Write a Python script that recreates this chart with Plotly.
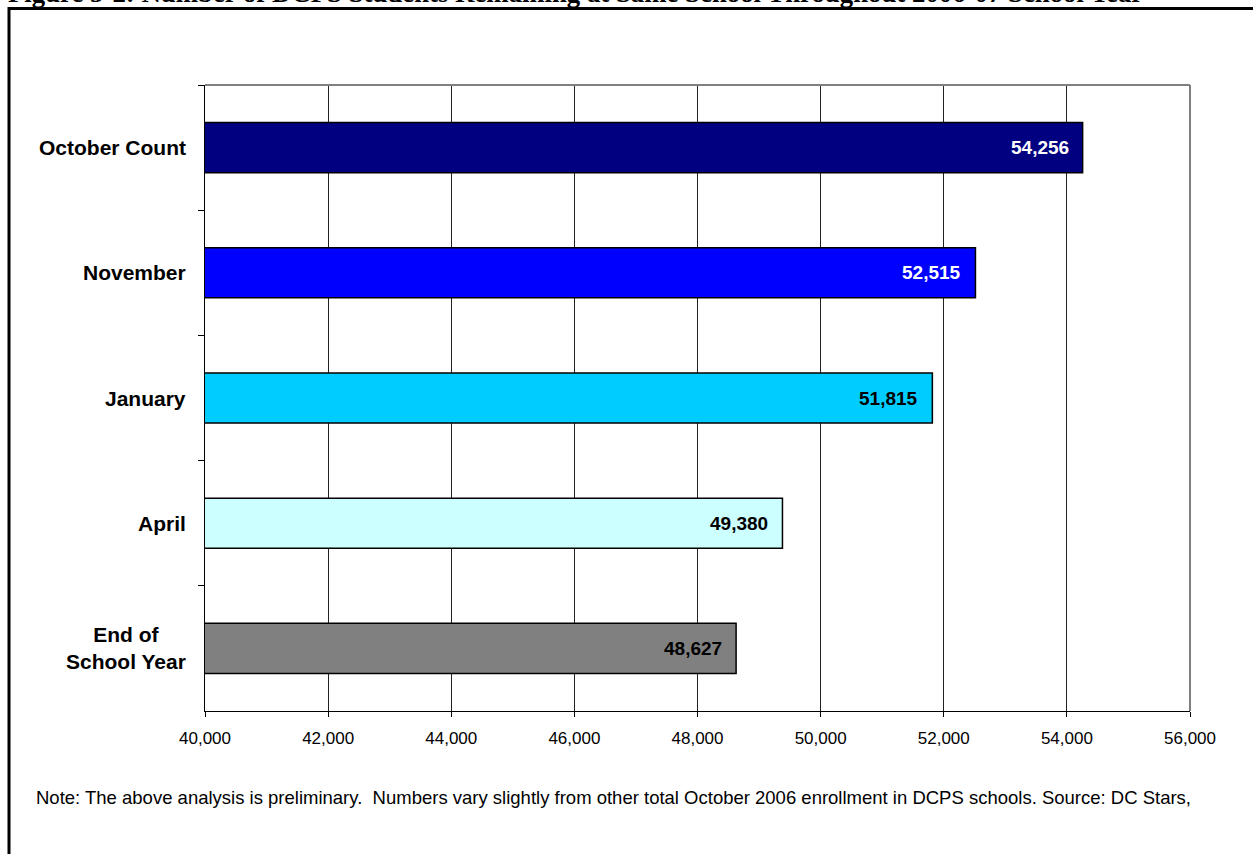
import plotly.graph_objects as go

categories = ["October Count", "November", "January", "April", "End of School Year"]
cat_labels = ["October Count", "November", "January", "April", "End of<br>School Year"]
values = [54256, 52515, 51815, 49380, 48627]
bar_colors = ["#000080", "#0000FF", "#00CCFF", "#CCFFFF", "#808080"]
label_colors = ["white", "white", "black", "black", "black"]
x_ticks = list(range(40000, 56001, 2000))

title_text = "Figure 5-2: Number of DCPS Students Remaining at Same School Throughout 2006-07 School Year"
note_line1 = "Note: The above analysis is preliminary.  Numbers vary slightly from other total October 2006 enrollment in DCPS schools. Source: DC Stars,"
note_line2 = "2007"

W, H = 1253, 854
L, R, T, B = 205, 1190, 85, 711
FONT = "Liberation Sans, Arial"

def px(x):
    return (x - L) / (R - L)

def py(y):
    return (B - y) / (B - T)

fig = go.Figure(go.Bar(
    y=categories, x=values, orientation="h",
    marker=dict(color=bar_colors, line=dict(color="black", width=1.5)),
    width=0.4, hoverinfo="x+y",
))

# clipped second line of note, drawn as trace text so a white shape can cover it
fig.add_trace(go.Scatter(
    x=[px(34)], y=[py(821)], xaxis="x2", yaxis="y2", mode="text",
    text=[note_line2], textposition="middle right",
    textfont=dict(family=FONT, size=18.5, color="black"),
    cliponaxis=False, hoverinfo="skip", showlegend=False,
))

annotations = []
for c, lab in zip(categories, cat_labels):
    annotations.append(dict(x=px(188), xref="paper", y=c, yref="y", text=f"<b>{lab}</b>",
                            showarrow=False, xanchor="right", align="center",
                            font=dict(family=FONT, size=21, color="black")))
for c, v, col in zip(categories, values, label_colors):
    annotations.append(dict(x=v, xref="x", y=c, yref="y", text=f"<b>{v:,}</b>",
                            showarrow=False, xanchor="right", xshift=-12,
                            font=dict(family=FONT, size=19, color=col)))
annotations.append(dict(x=px(34), xref="paper", y=py(797), yref="paper",
                        text=note_line1, showarrow=False, xanchor="left", yanchor="middle",
                        font=dict(family=FONT, size=18.5, color="black")))
annotations.append(dict(x=px(6), xref="paper", y=py(-7), yref="paper",
                        text=f"<b>{title_text}</b>",
                        showarrow=False, xanchor="left", yanchor="middle",
                        font=dict(family="Liberation Serif, Times New Roman", size=26.8, color="black")))

shapes = [
    # white cover clipping the second note line
    dict(type="rect", xref="paper", yref="paper", x0=px(12), x1=px(1253), y0=py(817), y1=py(860),
         fillcolor="white", line=dict(width=0), layer="above"),
    # outer frame
    dict(type="line", xref="paper", yref="paper", x0=px(8), x1=px(1260), y0=py(8.5), y1=py(8.5),
         line=dict(color="black", width=3)),
    dict(type="line", xref="paper", yref="paper", x0=px(9), x1=px(9), y0=py(7), y1=py(860),
         line=dict(color="black", width=3)),
    # plot area top and right borders
    dict(type="line", xref="paper", yref="paper", x0=0, x1=1, y0=1, y1=1,
         line=dict(color="#808080", width=2)),
    dict(type="line", xref="paper", yref="paper", x0=1, x1=1, y0=0, y1=1,
         line=dict(color="#808080", width=2)),
]

fig.update_layout(
    width=W, height=H,
    margin=dict(l=L, r=W - R, t=T, b=H - B, pad=0),
    paper_bgcolor="white", plot_bgcolor="white",
    showlegend=False,
    annotations=annotations,
    shapes=shapes,
    font=dict(family=FONT, color="black"),
    xaxis=dict(range=[40000, 56000], tickvals=x_ticks, ticktext=[f"{t:,}" for t in x_ticks],
               showgrid=True, gridcolor="#222222", gridwidth=1,
               showline=True, linecolor="black", linewidth=1,
               ticks="outside", ticklen=5, tickcolor="black", ticklabelstandoff=7,
               tickfont=dict(size=17, family=FONT), zeroline=False),
    yaxis=dict(categoryorder="array", categoryarray=categories, autorange="reversed",
               showticklabels=False, tickson="boundaries", ticks="outside", ticklen=6,
               tickcolor="black", showgrid=False, showline=True, linecolor="black", linewidth=1),
    xaxis2=dict(domain=[0, 1], range=[0, 1], overlaying="x", visible=False, fixedrange=True),
    yaxis2=dict(domain=[0, 1], range=[0, 1], overlaying="y", visible=False, fixedrange=True),
)

fig.write_html("out.html", config={"displayModeBar": False},
               post_script="document.body.style.margin='0px';")
